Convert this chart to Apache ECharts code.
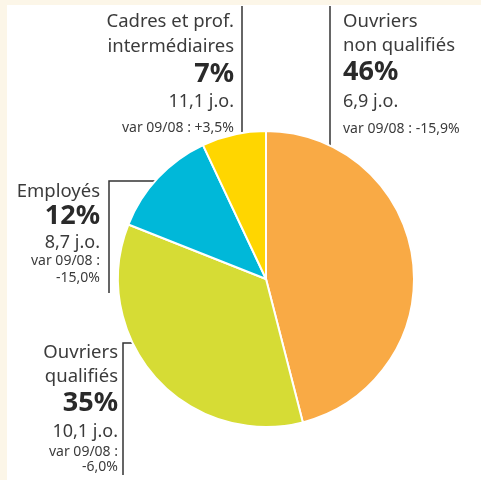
<!DOCTYPE html>
<html>
<head>
<meta charset="utf-8">
<script src="https://cdn.jsdelivr.net/npm/echarts@6/dist/echarts.min.js"></script>
<style>
  html, body { margin: 0; padding: 0; background: #fff; }
  #chart { width: 481px; height: 480px; }
</style>
</head>
<body>
<div id="chart"></div>
<script>
// data
var categories = ['Ouvriers non qualifiés', 'Ouvriers qualifiés', 'Employés', 'Cadres et prof. intermédiaires'];
var shares = [46, 35, 12, 7];
var jours = ['6,9', '10,1', '8,7', '11,1'];
var variations = ['-15,9%', '-6,0%', '-15,0%', '+3,5%'];
var nameLines = [['Ouvriers', 'non qualifiés'], ['Ouvriers', 'qualifiés'], ['Employés'], ['Cadres et prof.', 'intermédiaires']];
var colors = ['#f9aa45', '#d6dc35', '#00b8d9', '#ffd600'];

// where each label block sits (x anchor, alignment, line centres)
var labelPos = [
    { x: 343, align: 'left', ys: [22, 46, 72, 102, 129], splitVar: false },
    { x: 118, align: 'right', ys: [353, 377, 403, 432, 452, 467], splitVar: true },
    { x: 100, align: 'right', ys: [192, 216, 243, 261, 278], splitVar: true },
    { x: 234, align: 'right', ys: [22, 47, 74, 102, 128], splitVar: false }
];
var leaders = [
    [[330, 6], [330, 170]],
    [[123, 475], [123, 343], [162, 343]],
    [[109, 293], [109, 181], [179, 181]],
    [[242, 6], [242, 150]]
];

var font = '"Noto Sans", "Open Sans", sans-serif';
var txtColor = '#3b3b3b';

function buildGraphic() {
    var els = [
        { type: 'rect', shape: { x: 0, y: 0, width: 481, height: 5 }, style: { fill: '#fcf6e8' }, silent: true },
        { type: 'rect', shape: { x: 0, y: 0, width: 7, height: 480 }, style: { fill: '#fcf6e8' }, silent: true }
    ];
    categories.forEach(function (c, i) {
        var p = labelPos[i];
        var lines = [];
        nameLines[i].forEach(function (n) { lines.push({ t: n, size: 18.5, weight: 'normal' }); });
        lines.push({ t: shares[i] + '%', size: 27, weight: 'bold' });
        lines.push({ t: jours[i] + ' j.o.', size: 18, weight: 'normal' });
        if (p.splitVar) {
            lines.push({ t: 'var 09/08 :', size: 14, weight: 'normal' });
            lines.push({ t: variations[i], size: 14, weight: 'normal' });
        } else {
            lines.push({ t: 'var 09/08 : ' + variations[i], size: 14, weight: 'normal' });
        }
        lines.forEach(function (l, k) {
            els.push({
                type: 'text',
                x: p.x,
                y: p.ys[k],
                silent: true,
                style: {
                    text: l.t,
                    fill: l.weight === 'bold' ? '#2a2a2a' : txtColor,
                    font: l.weight + ' ' + l.size + 'px ' + font,
                    textAlign: p.align,
                    textVerticalAlign: 'middle'
                }
            });
        });
        els.push({
            type: 'polyline',
            silent: true,
            shape: { points: leaders[i] },
            style: { stroke: '#333', lineWidth: 1.5, fill: null }
        });
    });
    return els;
}

var myChart = echarts.init(document.getElementById('chart'));
var option = {
    backgroundColor: '#ffffff',
    animation: false,
    series: [
        {
            type: 'pie',
            center: [266, 279],
            radius: [0, 148],
            startAngle: 90,
            clockwise: true,
            label: { show: false },
            labelLine: { show: false },
            itemStyle: { borderColor: '#ffffff', borderWidth: 2 },
            data: categories.map(function (c, i) {
                return { name: c, value: shares[i], itemStyle: { color: colors[i] } };
            })
        }
    ],
    graphic: buildGraphic()
};
myChart.setOption(option);
</script>
</body>
</html>
